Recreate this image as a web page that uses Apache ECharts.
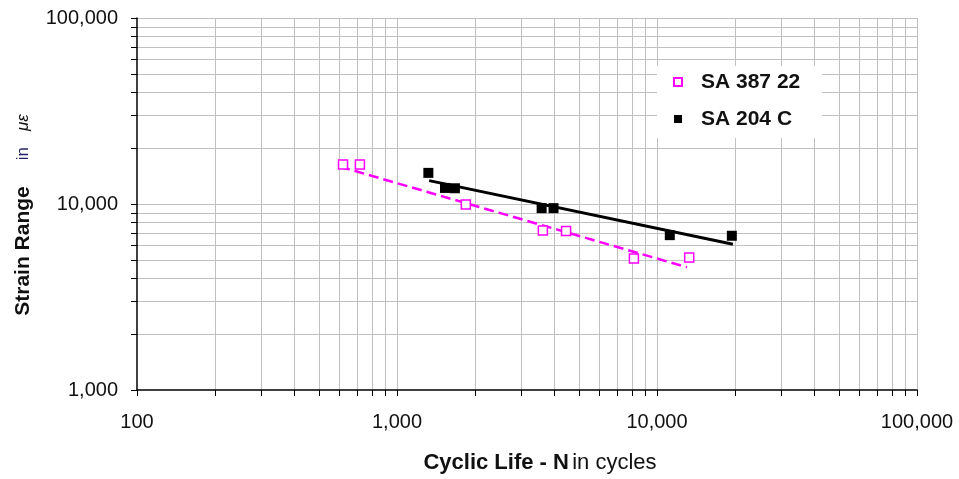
<!DOCTYPE html>
<html>
<head>
<meta charset="utf-8">
<script src="https://cdn.jsdelivr.net/npm/echarts@6/dist/echarts.min.js"></script>
<style>
  html, body { margin: 0; padding: 0; background: #fff; }
  #chart { width: 959px; height: 479px; }
</style>
</head>
<body>
<div id="chart"></div>
<script>
// Fatigue test results: cycles to failure vs. strain range (με)
const seriesNames = ['SA 387 22', 'SA 204 C'];

const sa387Cycles = [620, 720, 1840, 3640, 4470, 8150, 13300];
const sa387Strain = [16300, 16300, 9950, 7200, 7150, 5100, 5150];

const sa204Cycles = [1320, 1530, 1670, 3600, 4000, 11200, 19400];
const sa204Strain = [14700, 12200, 12150, 9500, 9500, 6800, 6750];

// Power-law trend lines (end points)
const sa387TrendCycles = [604, 13040];
const sa387TrendStrain = [15880, 4570];
const sa204TrendCycles = [1330, 19590];
const sa204TrendStrain = [13360, 6070];

// Axis ranges and log grid positions
const xRange = [100, 100000];
const yRange = [1000, 100000];
const xGridValues = [
  100, 200, 300, 400, 500, 600, 700, 800, 900,
  1000, 2000, 3000, 4000, 5000, 6000, 7000, 8000, 9000,
  10000, 20000, 30000, 40000, 50000, 60000, 70000, 80000, 90000,
  100000
];
const yGridValues = [
  1000, 2000, 3000, 4000, 5000, 6000, 7000, 8000, 9000,
  10000, 20000, 30000, 40000, 50000, 60000, 70000, 80000, 90000,
  100000
];

const zip = (a, b) => a.map((v, i) => [v, b[i]]);
const fmt = v => Math.round(v).toString().replace(/\B(?=(\d{3})+(?!\d))/g, ',');
const crisp = v => Math.round(v) + 0.5;

const GRID_COLOR = '#c0c0c0';
const TICK_LEN = 6;

function renderVGrid(params, api) {
  const v = api.value(0);
  const top = api.coord([v, yRange[1]]);
  const bot = api.coord([v, yRange[0]]);
  const x = crisp(top[0]);
  const children = [
    { type: 'line', shape: { x1: x, y1: bot[1], x2: x, y2: bot[1] + TICK_LEN },
      style: { stroke: '#000', lineWidth: 1 } }
  ];
  if (v !== xRange[0]) {
    children.unshift({ type: 'line', shape: { x1: x, y1: top[1], x2: x, y2: bot[1] },
      style: { stroke: GRID_COLOR, lineWidth: 1 } });
  }
  return { type: 'group', children };
}

function renderHGrid(params, api) {
  const v = api.value(1);
  const left = api.coord([xRange[0], v]);
  const right = api.coord([xRange[1], v]);
  const y = crisp(left[1]);
  const children = [
    { type: 'line', shape: { x1: left[0] - TICK_LEN, y1: y, x2: left[0], y2: y },
      style: { stroke: '#000', lineWidth: 1 } }
  ];
  if (v !== yRange[0]) {
    children.unshift({ type: 'line', shape: { x1: left[0], y1: y, x2: right[0], y2: y },
      style: { stroke: GRID_COLOR, lineWidth: 1 } });
  }
  return { type: 'group', children };
}

const chart = echarts.init(document.getElementById('chart'), null, { renderer: 'canvas' });

chart.setOption({
  animation: false,
  backgroundColor: '#fff',
  textStyle: { fontFamily: 'Liberation Sans, Arial, sans-serif' },
  grid: { left: 137, right: 42, top: 18, bottom: 88 },
  legend: {
    data: [
      { name: seriesNames[0], icon: 'rect' },
      { name: seriesNames[1], icon: 'rect' }
    ],
    orient: 'vertical',
    left: 657,
    top: 66,
    backgroundColor: '#fff',
    padding: [5, 22, 8, 16],
    itemWidth: 8,
    itemHeight: 8,
    itemGap: 15,
    selectedMode: false,
    textStyle: {
      fontSize: 21,
      fontWeight: 'bold',
      color: '#111',
      lineHeight: 22,
      padding: [0, 0, 0, 14]
    }
  },
  xAxis: {
    type: 'log',
    logBase: 10,
    min: xRange[0],
    max: xRange[1],
    z: 5,
    axisLine: { show: true, lineStyle: { color: '#000', width: 1.5 } },
    axisTick: { show: false },
    splitLine: { show: false },
    axisLabel: { formatter: fmt, fontSize: 20, color: '#111', margin: 22 },
    name: '{b|Cyclic Life - N} {r|in cycles}',
    nameLocation: 'middle',
    nameGap: 62,
    nameTextStyle: {
      padding: [0, 0, 0, 26],
      rich: {
        b: { fontSize: 22, fontWeight: 'bold', color: '#111' },
        r: { fontSize: 22, color: '#111' }
      }
    }
  },
  yAxis: {
    type: 'log',
    logBase: 10,
    min: yRange[0],
    max: yRange[1],
    z: 5,
    axisLine: { show: true, lineStyle: { color: '#000', width: 1.5 } },
    axisTick: { show: false },
    splitLine: { show: false },
    axisLabel: { formatter: fmt, fontSize: 20, color: '#111', margin: 19 },
    name: '{b|Strain Range}{r|in}{g|με}',
    nameLocation: 'middle',
    nameRotate: 90,
    nameGap: 103,
    nameTextStyle: {
      padding: [0, 22, 0, 0],
      rich: {
        b: { fontSize: 21, fontWeight: 'bold', color: '#111', padding: [0, 26, 0, 0] },
        r: { fontSize: 17, color: '#222266', padding: [0, 16, 0, 0] },
        g: { fontSize: 17, fontStyle: 'italic', color: '#111' }
      }
    }
  },
  series: [
    {
      name: 'vgrid',
      type: 'custom',
      z: 1,
      silent: true,
      clip: false,
      renderItem: renderVGrid,
      data: xGridValues.map(v => [v, yRange[0]])
    },
    {
      name: 'hgrid',
      type: 'custom',
      z: 1,
      silent: true,
      clip: false,
      renderItem: renderHGrid,
      data: yGridValues.map(v => [xRange[0], v])
    },
    {
      name: seriesNames[0] + ' trend',
      type: 'line',
      z: 2,
      silent: true,
      showSymbol: false,
      symbol: 'none',
      data: zip(sa387TrendCycles, sa387TrendStrain),
      lineStyle: { color: '#ff00ff', width: 2.5, type: [10, 5] }
    },
    {
      name: seriesNames[1] + ' trend',
      type: 'line',
      z: 2,
      silent: true,
      showSymbol: false,
      symbol: 'none',
      data: zip(sa204TrendCycles, sa204TrendStrain),
      lineStyle: { color: '#000', width: 3 }
    },
    {
      name: seriesNames[0],
      type: 'scatter',
      z: 3,
      symbol: 'rect',
      symbolSize: 9,
      data: zip(sa387Cycles, sa387Strain),
      itemStyle: { color: '#fff', borderColor: '#ff00ff', borderWidth: 1.5, opacity: 1 }
    },
    {
      name: seriesNames[1],
      type: 'scatter',
      z: 3,
      symbol: 'rect',
      symbolSize: 10,
      data: zip(sa204Cycles, sa204Strain),
      itemStyle: { color: '#000', opacity: 1 }
    }
  ]
});
</script>
</body>
</html>
